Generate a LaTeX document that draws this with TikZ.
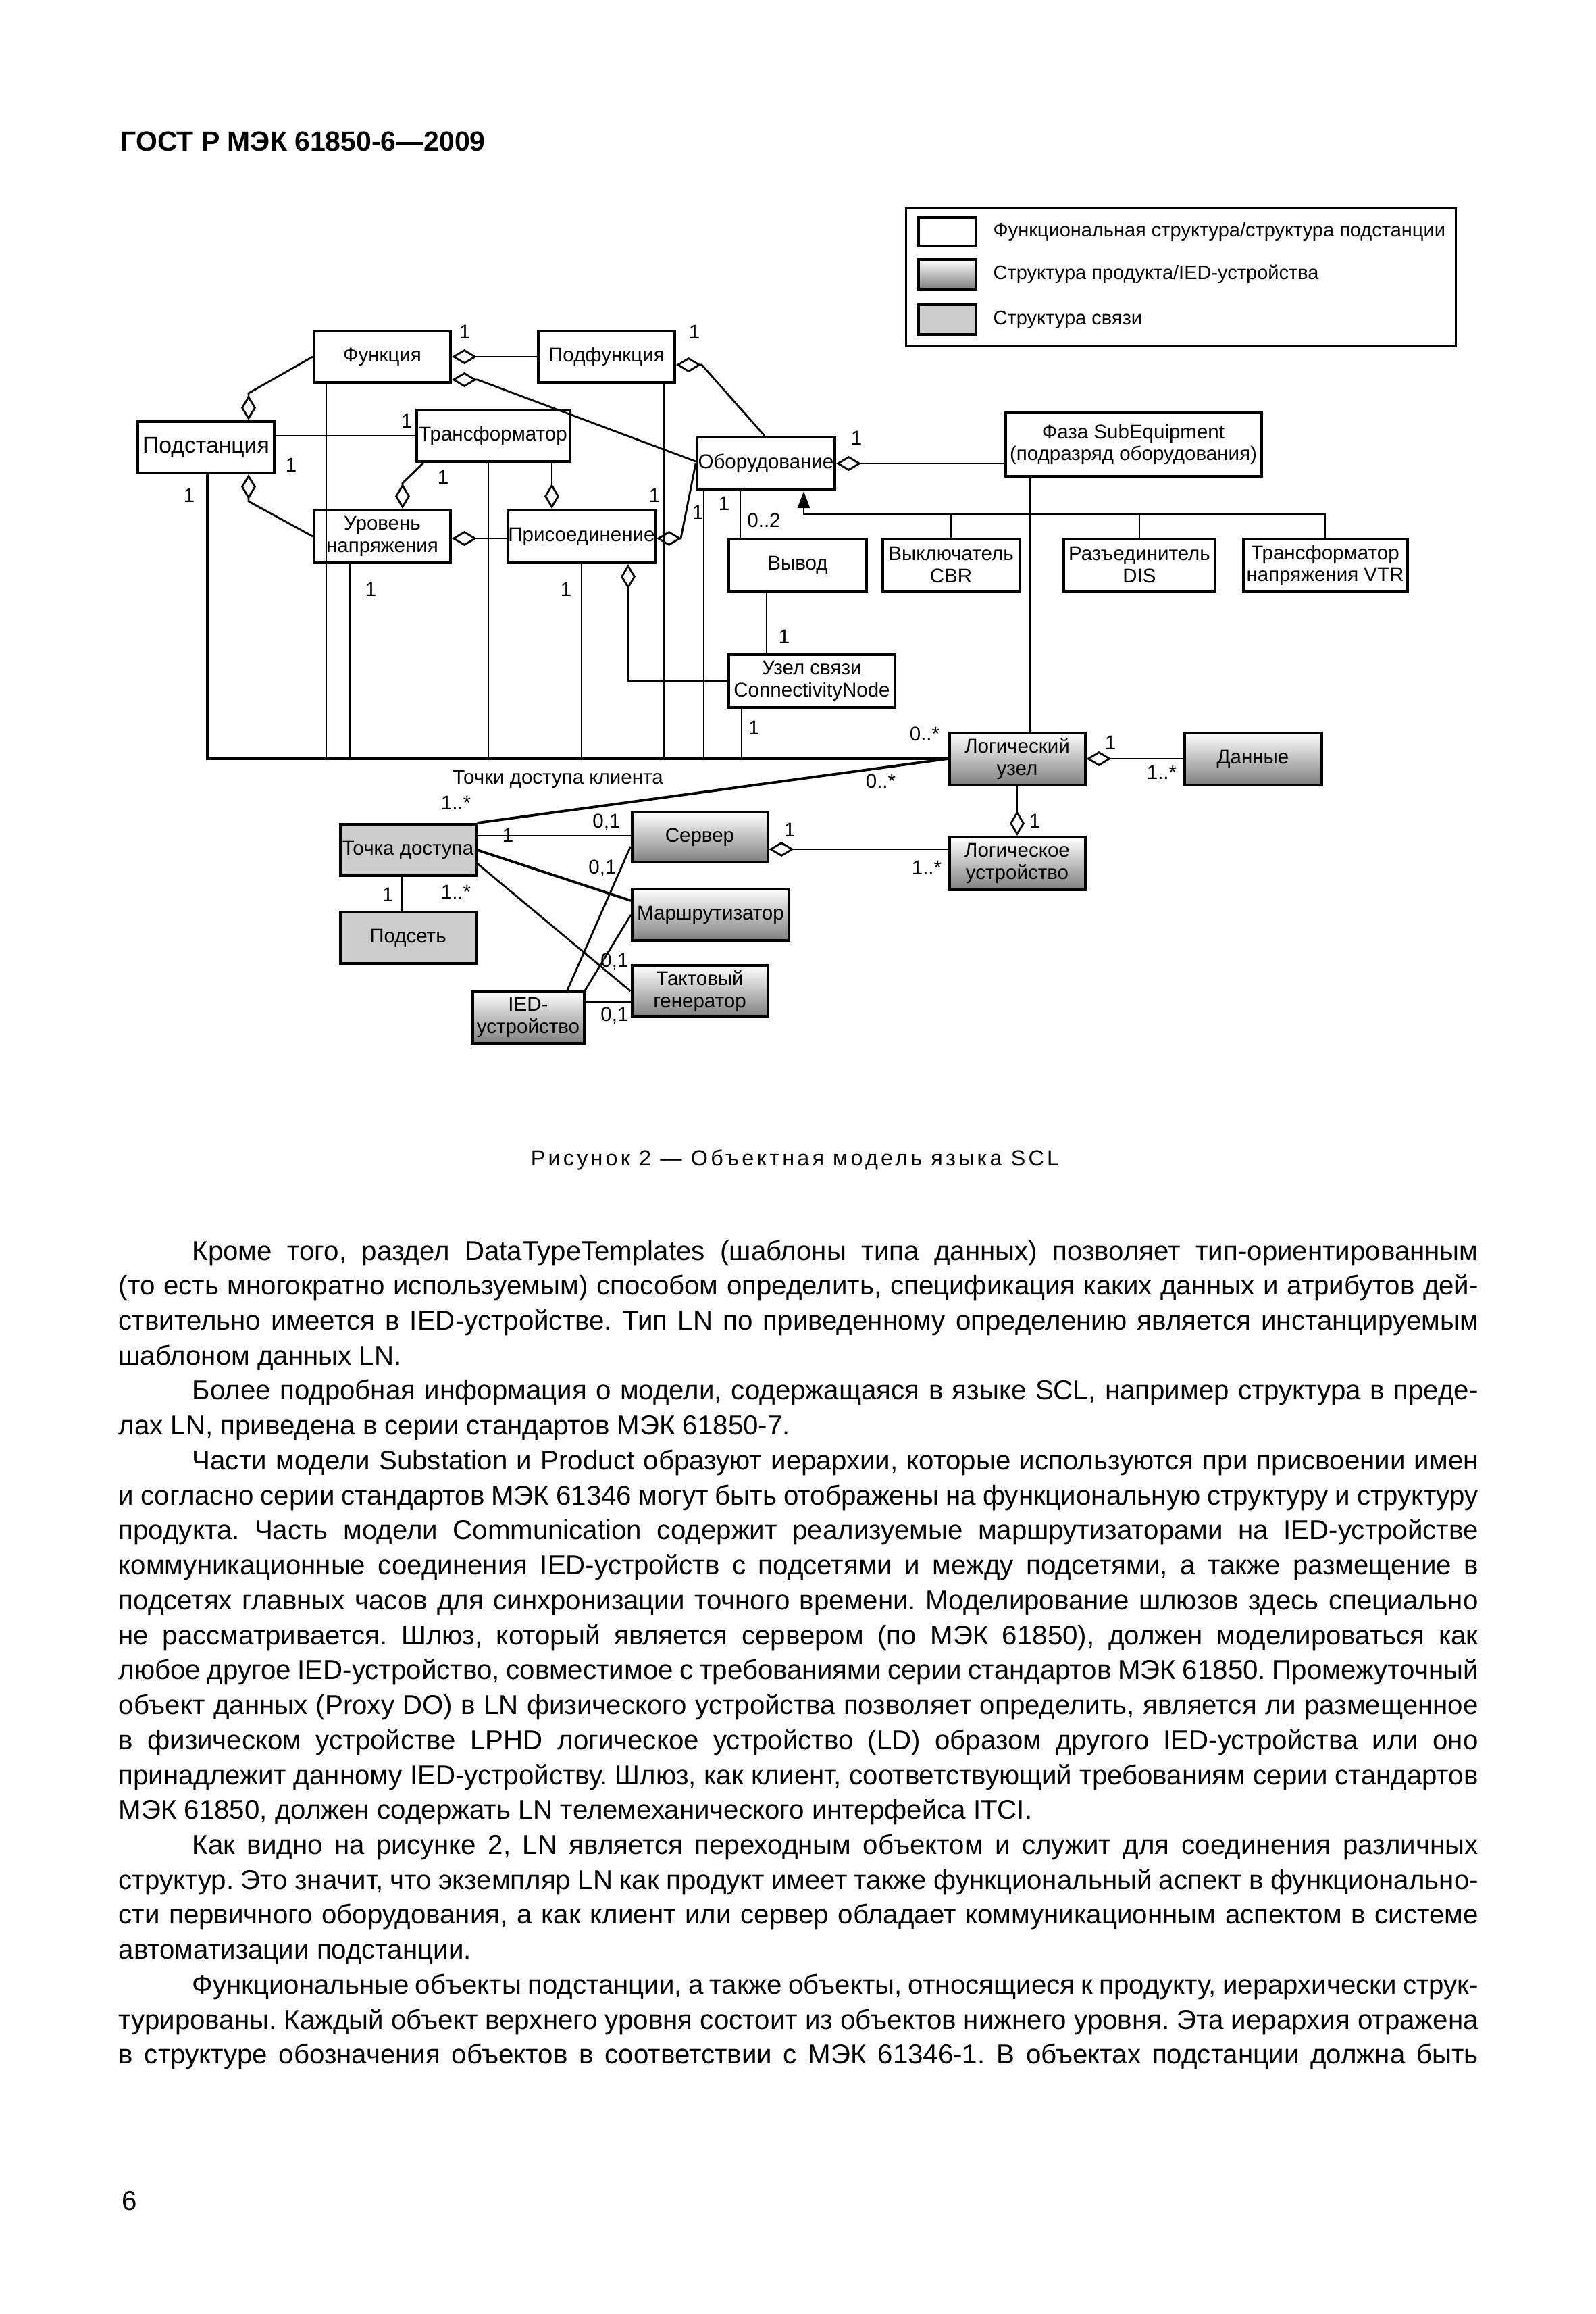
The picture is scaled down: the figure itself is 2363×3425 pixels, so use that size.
\documentclass[tikz,border=0pt]{standalone}
\usepackage{fontspec}
\setmainfont{Liberation Sans}
\newfontfamily\capfont{Liberation Sans}[LetterSpace=13]
\usepackage{tikz}
\usetikzlibrary{arrows.meta}

\newcommand\dgsize{\fontsize{8.4}{9.2}\selectfont}
\newlength\bodyw
\setlength\bodyw{201.3mm}
\newcommand\bodyjust[1]{\makebox[\bodyw][s]{#1}\par}
\newcommand\bodylast[1]{\mbox{#1}\par}
\newcommand\bodyind{\hspace*{10.9mm}}

\tikzset{
  funcbox/.style={draw, line width=0.4mm, fill=white, inner sep=0, align=center, font=\dgsize},
  prodbox/.style={funcbox, top color=white, bottom color=black!50},
  commbox/.style={funcbox, fill=black!20},
  conn/.style={line width=0.28mm},
  thickconn/.style={line width=0.38mm},
  bus/.style={line width=0.4mm},
  agg/.style={conn, arrows={Diamond[open,length=3.7mm,width=2.2mm]-}},
  lbl/.style={font=\dgsize, inner sep=0},
}

\begin{document}
\begin{tikzpicture}[x=0.1mm, y=-0.1mm]
\path[fill=white, use as bounding box] (0,0) rectangle (2363,3425);

% header
\node[anchor=base west, inner sep=0, font=\bfseries\fontsize{11.65}{14}\selectfont] (title) at (178,223) {ГОСТ Р МЭК 61850-6—2009};

% legend
\node[draw, line width=0.3mm, minimum width=81.4mm, minimum height=20.4mm] (legend) at (1748,410) {};
\node[funcbox, minimum width=8.5mm, minimum height=4.2mm] (lgfunc) at (1402,343) {};
\node[prodbox, minimum width=8.5mm, minimum height=4.4mm] (lgprod) at (1402,406) {};
\node[commbox, minimum width=8.5mm, minimum height=4.4mm] (lgcomm) at (1402,473) {};
\node[lbl, anchor=west, font=\fontsize{8.25}{9}\selectfont] (lgfunctext) at (1470,343) {Функциональная структура/структура подстанции};
\node[lbl, anchor=west, font=\fontsize{8.25}{9}\selectfont] (lgprodtext) at (1470,406) {Структура продукта/IED-устройства};
\node[lbl, anchor=west, font=\fontsize{8.25}{9}\selectfont] (lgcommtext) at (1470,473) {Структура связи};

% substation / functional structure
\node[funcbox, minimum width=20.2mm, minimum height=7.6mm, font=\fontsize{9.6}{10}\selectfont] (podst) at (305,662) {Подстанция};
\node[funcbox, minimum width=20.2mm, minimum height=7.6mm] (func) at (566,528) {Функция};
\node[funcbox, minimum width=20.2mm, minimum height=7.6mm] (podfunc) at (898,528) {Подфункция};
\node[funcbox, minimum width=22.7mm, minimum height=7.6mm] (tr) at (730,645) {Трансформатор};
\node[funcbox, minimum width=20.2mm, minimum height=7.8mm] (ur) at (566,794) {Уровень\\напряжения};
\node[funcbox, minimum width=21.8mm, minimum height=7.8mm] (pris) at (861,794) {Присоединение};
\node[funcbox, minimum width=20.4mm, minimum height=7.8mm] (obor) at (1134,686) {Оборудование};
\node[funcbox, minimum width=37.9mm, minimum height=9.4mm] (faza) at (1678,658) {Фаза SubEquipment\\(подразряд оборудования)};
\node[funcbox, minimum width=20.4mm, minimum height=7.7mm] (vyvod) at (1181,836) {Вывод};
\node[funcbox, minimum width=20.3mm, minimum height=7.7mm] (cbr) at (1408,836) {Выключатель\\CBR};
\node[funcbox, minimum width=22.4mm, minimum height=7.7mm] (dis) at (1687,836) {Разъединитель\\DIS};
\node[funcbox, minimum width=24.3mm, minimum height=7.8mm] (vtr) at (1962,837) {Трансформатор\\напряжения VTR};
\node[funcbox, minimum width=24.6mm, minimum height=7.8mm] (cn) at (1202,1008) {Узел связи\\ConnectivityNode};

% product / IED structure
\node[prodbox, minimum width=20.1mm, minimum height=7.7mm] (ln) at (1506,1123) {Логический\\узел};
\node[prodbox, minimum width=20.3mm, minimum height=7.7mm] (dannye) at (1855,1123) {Данные};
\node[prodbox, minimum width=20.1mm, minimum height=7.8mm] (ld) at (1506,1278) {Логическое\\устройство};
\node[prodbox, minimum width=20.1mm, minimum height=7.4mm] (server) at (1036,1239) {Сервер};
\node[prodbox, minimum width=23.2mm, minimum height=7.6mm] (router) at (1052,1354) {Маршрутизатор};
\node[prodbox, minimum width=20.1mm, minimum height=7.6mm] (clock) at (1036,1467) {Тактовый\\генератор};
\node[prodbox, minimum width=16.5mm, minimum height=7.7mm] (ied) at (782,1506) {IED-\\устройство};

% communication structure
\node[commbox, minimum width=20.1mm, minimum height=7.6mm] (ap) at (604,1258) {Точка доступа};
\node[commbox, minimum width=20.1mm, minimum height=7.6mm] (subnet) at (604,1388) {Подсеть};

% substation hierarchy
\draw[agg] (podst.north -| 368,0) -- ++(0,-40) -- (func.west);
\draw[agg] (podst.south -| 368,0) -- ++(0,40) -- (ur.west);
\draw[conn] (podst.east |- 0,645) -- (tr.west |- 0,645);
\draw[agg] (func.east) -- (podfunc.west);
\draw[agg] (func.east |- 0,562) -- ++(38,0) -- (obor.west |- 0,683);
\draw[agg] (podfunc.east |- 0,540) -- ++(38,0) -- (obor.north -| 1132,0);
\draw[agg] (ur.north -| 596,0) -- ++(0,-38) -- (tr.south -| 627,0);
\draw[agg] (pris.north -| 817,0) -- (tr.south -| 817,0);
\draw[agg] (ur.east |- 0,797) -- (pris.west |- 0,797);
\draw[agg] (pris.east |- 0,797) -- ++(36,0) -- (obor.west |- 0,686);
\draw[agg] (obor.east) -- (faza.west |- obor.east);
\draw[agg] (pris.south -| 930,0) -- (cn.west -| 930,0) -- (cn.west);

% equipment
\draw[conn] (obor.south -| 1096,0) -- (vyvod.north -| 1096,0);
\draw[conn] (vyvod.south -| 1135,0) -- (cn.north -| 1135,0);
\draw[conn, -{Triangle[length=2.5mm,width=1.8mm]}] (vtr.north) |- (1190,761) -- (obor.south -| 1190,0);
\draw[conn] (cbr.north) -- (cbr.north |- 0,761);
\draw[conn] (dis.north) -- (dis.north |- 0,761);
\draw[conn] (faza.south -| 1525,0) -- (ln.north -| 1525,0);

% lines down to the logical node
\draw[bus] (podst.south -| 307,0) |- (ln.west);
\draw[conn] (func.south -| 483,0) -- (483,0 |- ln.west);
\draw[conn] (ur.south -| 518,0) -- (518,0 |- ln.west);
\draw[conn] (tr.south -| 723,0) -- (723,0 |- ln.west);
\draw[conn] (pris.south) -- (pris.south |- ln.west);
\draw[conn] (podfunc.south -| 983,0) -- (983,0 |- ln.west);
\draw[conn] (obor.south -| 1042,0) -- (1042,0 |- ln.west);
\draw[conn] (cn.south -| 1098,0) -- (1098,0 |- ln.west);

% logical node and device
\draw[agg] (ln.east) -- (dannye.west);
\draw[agg] (ld.north) -- (ln.south);
\draw[agg] (server.east |- 0,1257) -- (ld.west |- 0,1257);
\draw[thickconn] (ap.north east) -- (ln.west);

% access point
\draw[conn] (ap.east |- 0,1237) -- (server.west |- 0,1237);
\draw[thickconn] (ap.east) -- (router.west |- 0,1333);
\draw[conn] (ap.east |- 0,1278) -- (clock.west);
\draw[conn] (ap.south -| 595,0) -- (subnet.north -| 595,0);
\draw[conn] (ied.north -| 840,0) -- (server.west |- 0,1253);
\draw[conn] (ied.north east) -- (router.west);
\draw[conn] (ied.east |- 0,1483) -- (clock.west |- 0,1483);

% multiplicities
\node[lbl] (m1) at (688,491) {1};
\node[lbl] (m2) at (1028,491) {1};
\node[lbl] (m3) at (602,623) {1};
\node[lbl] (m4) at (431,688) {1};
\node[lbl] (m5) at (280,733) {1};
\node[lbl] (m6) at (656,706) {1};
\node[lbl] (m7) at (969,733) {1};
\node[lbl] (m8) at (1033,758) {1};
\node[lbl] (m9) at (1072,745) {1};
\node[lbl] (m10) at (1131,770) {0..2};
\node[lbl] (m11) at (1268,648) {1};
\node[lbl] (m12) at (549,872) {1};
\node[lbl] (m13) at (838,872) {1};
\node[lbl] (m14) at (1161,942) {1};
\node[lbl] (m15) at (1116,1077) {1};
\node[lbl] (m16) at (1369,1086) {0..*};
\node[lbl] (m17) at (1644,1099) {1};
\node[lbl] (m18) at (1720,1143) {1..*};
\node[lbl] (m19) at (826,1153) {Точки доступа клиента};
\node[lbl] (m20) at (1304,1156) {0..*};
\node[lbl] (m21) at (675,1188) {1..*};
\node[lbl] (m22) at (1532,1215) {1};
\node[lbl] (m23) at (1372,1284) {1..*};
\node[lbl] (m24) at (1169,1228) {1};
\node[lbl] (m25) at (898,1217) {0,1};
\node[lbl] (m26) at (752,1236) {1};
\node[lbl] (m27) at (892,1285) {0,1};
\node[lbl] (m28) at (574,1324) {1};
\node[lbl] (m29) at (675,1320) {1..*};
\node[lbl] (m30) at (910,1423) {0,1};
\node[lbl] (m31) at (910,1503) {0,1};

% caption
\node[anchor=base, inner sep=0, font=\capfont\fontsize{9.2}{11}\selectfont] (caption) at (1177,1725) {Рисунок 2 — Объектная модель языка SCL};

% body text
\node[anchor=base west, inner sep=0] (body) at (175,1865) {\parbox[t]{\bodyw}{\fontsize{11.45}{14.72}\selectfont\frenchspacing\setlength\parskip{0pt}%
\bodyjust{\bodyind Кроме того, раздел DataTypeTemplates (шаблоны типа данных) позволяет тип-ориентированным}
\bodyjust{(то есть многократно используемым) способом определить, спецификация каких данных и атрибутов дей-}
\bodyjust{ствительно имеется в IED-устройстве. Тип LN по приведенному определению является инстанцируемым}
\bodylast{шаблоном данных LN.}
\bodyjust{\bodyind Более подробная информация о модели, содержащаяся в языке SCL, например структура в преде-}
\bodylast{лах LN, приведена в серии стандартов МЭК 61850-7.}
\bodyjust{\bodyind Части модели Substation и Product образуют иерархии, которые используются при присвоении имен}
\bodyjust{и согласно серии стандартов МЭК 61346 могут быть отображены на функциональную структуру и структуру}
\bodyjust{продукта. Часть модели Communication содержит реализуемые маршрутизаторами на IED-устройстве}
\bodyjust{коммуникационные соединения IED-устройств с подсетями и между подсетями, а также размещение в}
\bodyjust{подсетях главных часов для синхронизации точного времени. Моделирование шлюзов здесь специально}
\bodyjust{не рассматривается. Шлюз, который является сервером (по МЭК 61850), должен моделироваться как}
\bodyjust{любое другое IED-устройство, совместимое с требованиями серии стандартов МЭК 61850. Промежуточный}
\bodyjust{объект данных (Proxy DO) в LN физического устройства позволяет определить, является ли размещенное}
\bodyjust{в физическом устройстве LPHD логическое устройство (LD) образом другого IED-устройства или оно}
\bodyjust{принадлежит данному IED-устройству. Шлюз, как клиент, соответствующий требованиям серии стандартов}
\bodylast{МЭК 61850, должен содержать LN телемеханического интерфейса ITCI.}
\bodyjust{\bodyind Как видно на рисунке 2, LN является переходным объектом и служит для соединения различных}
\bodyjust{структур. Это значит, что экземпляр LN как продукт имеет также функциональный аспект в функционально-}
\bodyjust{сти первичного оборудования, а как клиент или сервер обладает коммуникационным аспектом в системе}
\bodylast{автоматизации подстанции.}
\bodyjust{\bodyind Функциональные объекты подстанции, а также объекты, относящиеся к продукту, иерархически струк-}
\bodyjust{турированы. Каждый объект верхнего уровня состоит из объектов нижнего уровня. Эта иерархия отражена}
\bodyjust{в структуре обозначения объектов в соответствии с МЭК 61346-1. В объектах подстанции должна быть}}};

% page number
\node[anchor=base west, inner sep=0, font=\fontsize{11.45}{14}\selectfont] (pagenum) at (180,3271) {6};
\end{tikzpicture}
\end{document}
